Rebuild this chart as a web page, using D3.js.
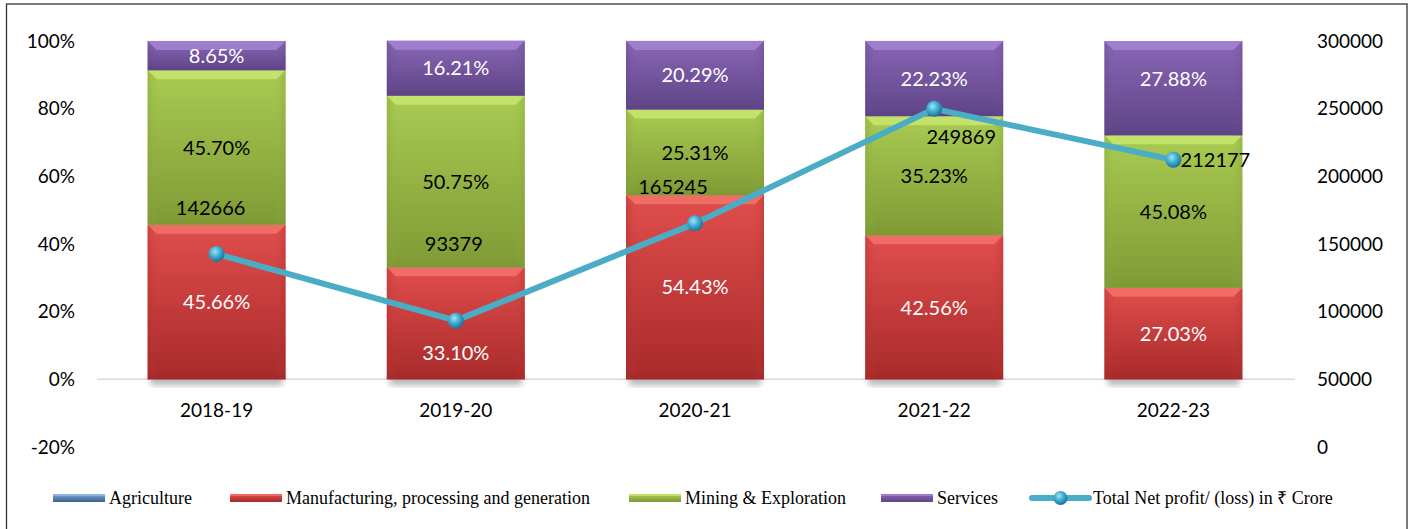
<!DOCTYPE html>
<html>
<head>
<meta charset="utf-8">
<script src="https://cdn.jsdelivr.net/npm/d3@7"></script>
<style>
  html, body { margin: 0; padding: 0; background: #fff; }
  svg { display: block; }
</style>
</head>
<body>
<svg id="chart" width="1413" height="529"></svg>
<script>
// ---------- DATA ----------
const categories = ["2018-19", "2019-20", "2020-21", "2021-22", "2022-23"];
const agriculture = [-0.01, -0.06, -0.03, -0.02, 0.01];
const manufacturing = [45.66, 33.10, 54.43, 42.56, 27.03];
const mining = [45.70, 50.75, 25.31, 35.23, 45.08];
const services = [8.65, 16.21, 20.29, 22.23, 27.88];
const netProfit = [142666, 93379, 165245, 249869, 212177];
const leftTicks = [-0.2, 0, 0.2, 0.4, 0.6, 0.8, 1.0];
const rightTicks = [0, 50000, 100000, 150000, 200000, 250000, 300000];
const seriesNames = ["Agriculture", "Manufacturing, processing and generation", "Mining & Exploration", "Services"];
const lineName = "Total Net profit/ (loss) in \u20B9 Crore";

// ---------- STYLE / LAYOUT ----------
const W = 1413, H = 529;
const plot = { left: 97, right: 1293, top: 41, bottom: 447 };
const palette = {
  Agriculture: { base: "#4f81bd", light: "#7fa7d8", dark: "#36608f", bevel: "#95b9e4" },
  "Manufacturing, processing and generation": { base: "#d24040", light: "#e04e4c", dark: "#a82a2a", bevel: "#f2736a" },
  "Mining & Exploration": { base: "#9bbb47", light: "#a9cb52", dark: "#7f9a35", bevel: "#c8e66e" },
  Services: { base: "#7b5aa6", light: "#8a66b6", dark: "#5e4486", bevel: "#a583d2" }
};
const labelColor = {
  Agriculture: "#fff",
  "Manufacturing, processing and generation": "#fff",
  "Mining & Exploration": "#000",
  Services: "#fff"
};
// manual label nudges (pixels) keyed "series|index"
const pctNudge = { "Manufacturing, processing and generation|1": 29, "Services|4": -9 };
const lineLabelOffset = [[-6, -46], [-2, -77], [-22, -37], [27, 28], [42, 0]];

const svg = d3.select("#chart");
const defs = svg.append("defs");

const x = d3.scaleBand().domain(categories).range([plot.left, plot.right])
  .paddingInner(0.423).paddingOuter(0.2115);
const yL = d3.scaleLinear().domain([-0.2, 1.0]).range([plot.bottom, plot.top]);
const yR = d3.scaleLinear().domain([0, 300000]).range([plot.bottom, plot.top]);

// frame
svg.append("rect").attr("x", 6.5).attr("y", 4).attr("width", 1400.5).attr("height", 540)
  .attr("fill", "none").attr("stroke", "#333").attr("stroke-width", 1.3);

// gradients
seriesNames.forEach((s, i) => {
  const c = palette[s];
  const g = defs.append("linearGradient").attr("id", "grad" + i)
    .attr("x1", 0).attr("y1", 0).attr("x2", 0).attr("y2", 1);
  g.append("stop").attr("offset", "0%").attr("stop-color", c.light);
  g.append("stop").attr("offset", "100%").attr("stop-color", c.dark);
  const gh = defs.append("linearGradient").attr("id", "gradh" + i)
    .attr("x1", 0).attr("y1", 0).attr("x2", 1).attr("y2", 0);
  gh.append("stop").attr("offset", "0%").attr("stop-color", c.dark).attr("stop-opacity", 0.35);
  gh.append("stop").attr("offset", "8%").attr("stop-color", c.base).attr("stop-opacity", 0);
  gh.append("stop").attr("offset", "92%").attr("stop-color", c.base).attr("stop-opacity", 0);
  gh.append("stop").attr("offset", "100%").attr("stop-color", c.dark).attr("stop-opacity", 0.35);
});
const rg = defs.append("radialGradient").attr("id", "ball").attr("cx", "40%").attr("cy", "35%").attr("r", "65%");
rg.append("stop").attr("offset", "0%").attr("stop-color", "#9fe3f5");
rg.append("stop").attr("offset", "55%").attr("stop-color", "#3aa8cc");
rg.append("stop").attr("offset", "100%").attr("stop-color", "#1d7196");
const blur = defs.append("filter").attr("id", "shadow").attr("x", "-20%").attr("y", "-20%").attr("width", "140%").attr("height", "140%");
blur.append("feGaussianBlur").attr("stdDeviation", 3);

// baseline at 0%
svg.append("line").attr("x1", plot.left).attr("x2", plot.right + 2)
  .attr("y1", yL(0)).attr("y2", yL(0)).attr("stroke", "#d9d9d9").attr("stroke-width", 1.5);

// stacked data
const rows = categories.map((c, i) => ({
  cat: c,
  "Agriculture": agriculture[i] / 100,
  "Manufacturing, processing and generation": manufacturing[i] / 100,
  "Mining & Exploration": mining[i] / 100,
  "Services": services[i] / 100
}));
const stacked = d3.stack().keys(seriesNames).offset(d3.stackOffsetDiverging)(rows);

// shadows beneath bars
svg.append("g").selectAll("rect").data(rows).join("rect")
  .attr("x", d => x(d.cat) + 3).attr("width", x.bandwidth() - 6)
  .attr("y", yL(0) - 6).attr("height", 12)
  .attr("fill", "#000").attr("opacity", 0.28).attr("filter", "url(#shadow)");

const barG = svg.append("g");
stacked.forEach((layer, si) => {
  const s = layer.key;
  const c = palette[s];
  layer.forEach((d, i) => {
    const x0 = x(categories[i]);
    const w = x.bandwidth();
    const yTop = yL(Math.max(d[0], d[1]));
    const yBot = yL(Math.min(d[0], d[1]));
    const h = yBot - yTop;
    if (h < 0.5) return;
    const g = barG.append("g");
    g.append("rect").attr("x", x0).attr("y", yTop).attr("width", w).attr("height", h)
      .attr("fill", "url(#grad" + si + ")");
    g.append("rect").attr("x", x0).attr("y", yTop).attr("width", w).attr("height", h)
      .attr("fill", "url(#gradh" + si + ")");
    const b = Math.min(9, h / 3);
    // top bevel
    g.append("path").attr("d", `M${x0},${yTop}L${x0 + w},${yTop}L${x0 + w - b},${yTop + b}L${x0 + b},${yTop + b}Z`)
      .attr("fill", c.bevel).attr("opacity", 0.85);
    // bottom bevel
    const bb = Math.min(4, h / 4);
    g.append("path").attr("d", `M${x0},${yBot}L${x0 + w},${yBot}L${x0 + w - bb},${yBot - bb}L${x0 + bb},${yBot - bb}Z`)
      .attr("fill", c.dark).attr("opacity", 0.7);
  });
});

// percentage labels
const pctFmt = v => v.toFixed(2) + "%";
const pctG = svg.append("g").attr("font-family", "Lato, 'Open Sans', sans-serif").attr("font-size", 20)
  .attr("text-anchor", "middle");
stacked.forEach(layer => {
  const s = layer.key;
  if (s === "Agriculture") return;
  const vals = { "Manufacturing, processing and generation": manufacturing, "Mining & Exploration": mining, "Services": services }[s];
  layer.forEach((d, i) => {
    const cy = (yL(d[0]) + yL(d[1])) / 2 + (pctNudge[s + "|" + i] || 0);
    pctG.append("text").attr("x", x(categories[i]) + x.bandwidth() / 2).attr("y", cy)
      .attr("dy", "0.36em").attr("fill", labelColor[s]).text(pctFmt(vals[i]));
  });
});

// line
const line = d3.line().x((d, i) => x(categories[i]) + x.bandwidth() / 2).y(d => yR(d));
svg.append("path").datum(netProfit).attr("d", line).attr("fill", "none")
  .attr("stroke", "#4bacc6").attr("stroke-width", 6).attr("stroke-linejoin", "round");
svg.append("g").selectAll("circle").data(netProfit).join("circle")
  .attr("cx", (d, i) => x(categories[i]) + x.bandwidth() / 2).attr("cy", d => yR(d))
  .attr("r", 8).attr("fill", "url(#ball)");
svg.append("g").attr("font-family", "Lato, 'Open Sans', sans-serif").attr("font-size", 20)
  .attr("text-anchor", "middle").attr("fill", "#000")
  .selectAll("text").data(netProfit).join("text")
  .attr("x", (d, i) => x(categories[i]) + x.bandwidth() / 2 + lineLabelOffset[i][0])
  .attr("y", (d, i) => yR(d) + lineLabelOffset[i][1]).attr("dy", "0.36em")
  .text(d => d);

// axes (labels only)
const axisFont = "Lato, 'Open Sans', sans-serif";
const fmtPct = v => Math.round(v * 100) + "%";
const axL = d3.axisLeft(yL).tickValues(leftTicks).tickFormat(fmtPct).tickSize(0).tickPadding(0);
const gL = svg.append("g").attr("transform", "translate(75,0)").call(axL);
gL.select(".domain").remove();
gL.selectAll("text").attr("font-family", axisFont).attr("font-size", 19).attr("fill", "#000");

const axR = d3.axisRight(yR).tickValues(rightTicks).tickFormat(d3.format("d")).tickSize(0).tickPadding(0);
const gR = svg.append("g").attr("transform", "translate(1317,0)").call(axR);
gR.select(".domain").remove();
gR.selectAll("text").attr("font-family", axisFont).attr("font-size", 19).attr("fill", "#000");

const axB = d3.axisBottom(x).tickSize(0).tickPadding(0);
const gB = svg.append("g").attr("transform", `translate(0,${yL(0) + 24})`).call(axB);
gB.select(".domain").remove();
gB.selectAll("text").attr("font-family", axisFont).attr("font-size", 19).attr("fill", "#000");

// legend
const legendItems = [
  { name: seriesNames[0], x: 53, type: "bar", si: 0 },
  { name: seriesNames[1], x: 230, type: "bar", si: 1 },
  { name: seriesNames[2], x: 629, type: "bar", si: 2 },
  { name: seriesNames[3], x: 881, type: "bar", si: 3 },
  { name: lineName, x: 1032, type: "line" }
];
const lg = svg.append("g");
const ly = 498;
legendItems.forEach(it => {
  if (it.type === "bar") {
    lg.append("rect").attr("x", it.x).attr("y", ly - 4).attr("width", 52).attr("height", 8)
      .attr("fill", "url(#grad" + it.si + ")");
    lg.append("rect").attr("x", it.x).attr("y", ly - 4).attr("width", 52).attr("height", 2)
      .attr("fill", palette[seriesNames[it.si]].bevel).attr("opacity", 0.8);
  } else {
    lg.append("line").attr("x1", it.x).attr("x2", it.x + 57).attr("y1", ly).attr("y2", ly)
      .attr("stroke", "#4bacc6").attr("stroke-width", 6).attr("stroke-linecap", "round");
    lg.append("circle").attr("cx", it.x + 28.5).attr("cy", ly).attr("r", 7).attr("fill", "url(#ball)");
  }
  lg.append("text").attr("x", it.x + (it.type === "bar" ? 56 : 61)).attr("y", ly).attr("dy", "0.35em")
    .attr("font-family", "'Liberation Serif', 'Times New Roman', serif").attr("font-size", 18)
    .attr("fill", "#000").text(it.name);
});
</script>
</body>
</html>
